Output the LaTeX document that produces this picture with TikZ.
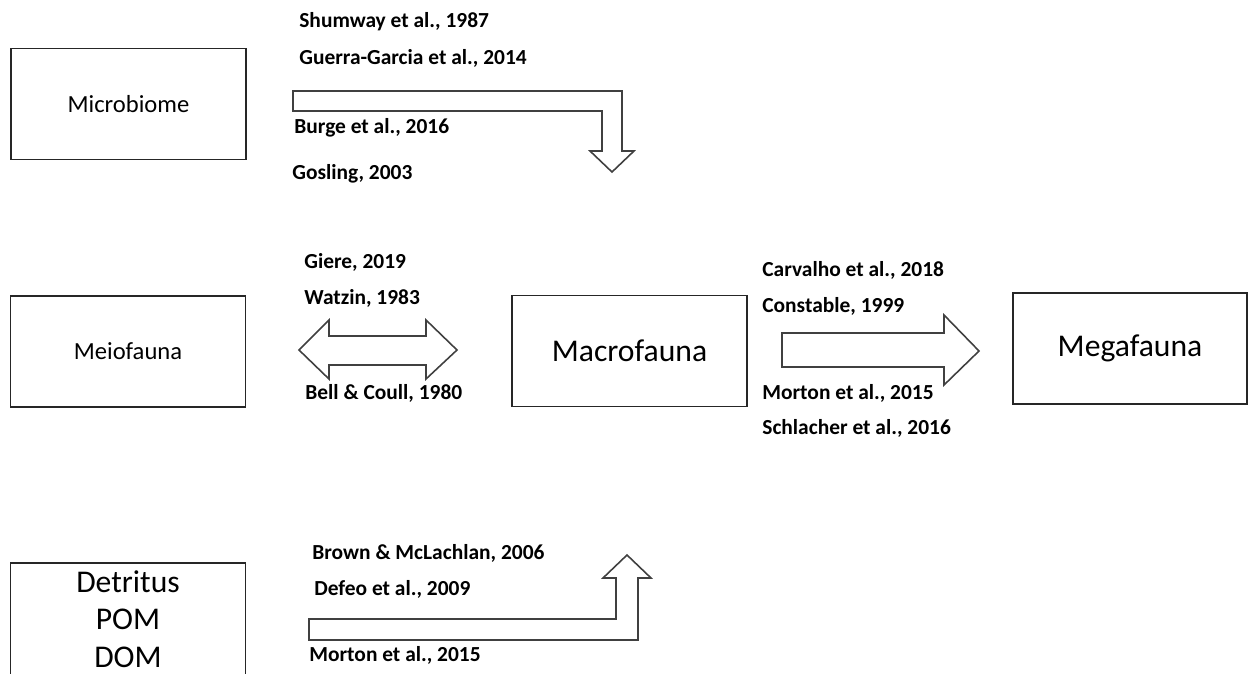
\documentclass[tikz,border=0pt]{standalone}
\usepackage{fontspec}
\setmainfont{Carlito}
\usepackage{tikz}
\usetikzlibrary{positioning}
\tikzset{
  taxbox/.style={draw=black!85, line width=0.95pt, inner sep=0pt, align=center,
        minimum width=4.7cm, minimum height=2.22cm},
  smallname/.style={font=\fontsize{14}{17}\selectfont},
  bigname/.style={font=\fontsize{18}{21.3}\selectfont},
  cite/.style={anchor=west, inner sep=0pt, font=\fontsize{12.2}{14}\selectfont\bfseries},
  blockarr/.style={draw=black!75, line width=0.9pt, fill=white, line join=miter},
}

\begin{document}
\begin{tikzpicture}[x=0.02cm, y=-0.02cm]
  \useasboundingbox (0,0) rectangle (1254,673);
  % compartments
  \node[taxbox, smallname] (micro) at (128.5,104){Microbiome};
  \node[taxbox, smallname] (meio)  at (128,351.5){Meiofauna};
  \node[taxbox, bigname]   (macro) at (629.5,351){Macrofauna};
  \node[taxbox, bigname, minimum width=4.68cm] (mega) at (1130,348.5){Megafauna};
  \node[taxbox, bigname, minimum height=2.24cm] (detr) at (128,619){Detritus\\POM\\DOM};
  % block arrows
  \draw[blockarr] (293,91) -- (622,91) -- (622,151) -- (634,151) -- (612,172)
        -- (590,151) -- (602,151) -- (602,111) -- (293,111) -- cycle;
  \draw[blockarr] (299,350) -- (329,320) -- (329,336) -- (426,336) -- (426,320)
        -- (457,350) -- (426,379) -- (426,365) -- (329,365) -- (329,379) -- cycle;
  \draw[blockarr] (782,333) -- (944,333) -- (944,315) -- (979,351) -- (944,385)
        -- (944,367) -- (782,367) -- cycle;
  \draw[blockarr] (309,619) -- (616,619) -- (616,578) -- (603,578) -- (627,555)
        -- (651,578) -- (638,578) -- (638,640) -- (309,640) -- cycle;
  % references
  \node[cite] (c1) at (299,22){Shumway et al., 1987};
  \node[cite] (c2) at (299,58){Guerra-Garcia et al., 2014};
  \node[cite] (c3) at (294,128){Burge et al., 2016};
  \node[cite] (c4) at (292,174){Gosling, 2003};
  \node[cite] (c5) at (304,262){Giere, 2019};
  \node[cite] (c6) at (304,298){Watzin, 1983};
  \node[cite] (c7) at (305,393){Bell \& Coull, 1980};
  \node[cite] (c8) at (762,270){Carvalho et al., 2018};
  \node[cite] (c9) at (762,306){Constable, 1999};
  \node[cite] (c10) at (762,393){Morton et al., 2015};
  \node[cite] (c11) at (762,428){Schlacher et al., 2016};
  \node[cite] (c12) at (312,553){Brown \& McLachlan, 2006};
  \node[cite] (c13) at (314,589){Defeo et al., 2009};
  \node[cite] (c14) at (309,655){Morton et al., 2015};
\end{tikzpicture}
\end{document}
